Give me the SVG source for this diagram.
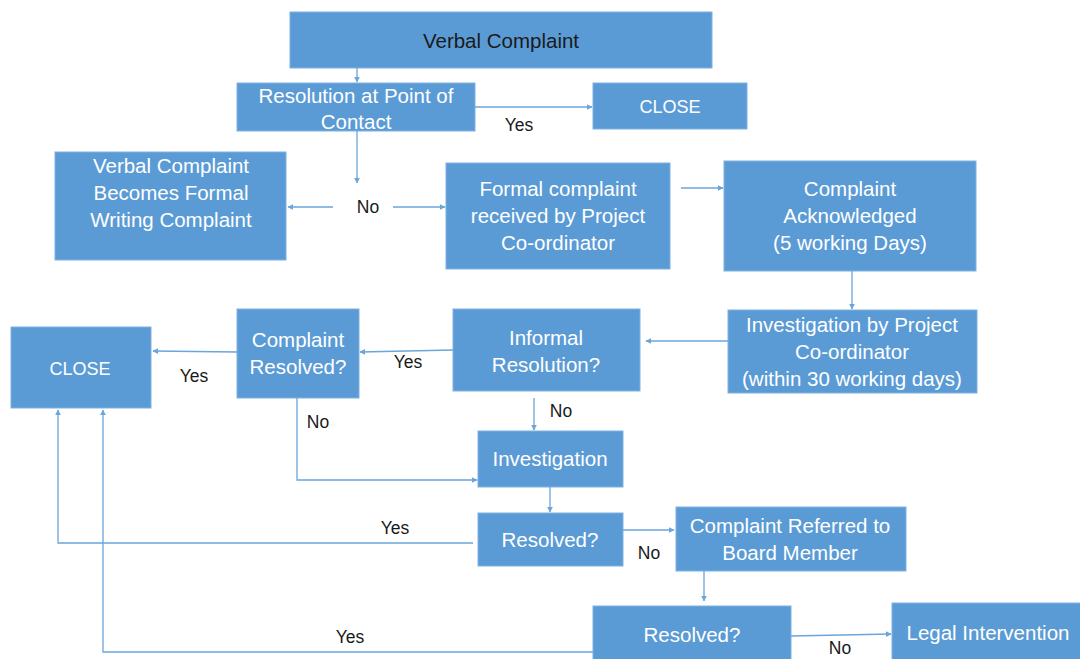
<svg xmlns="http://www.w3.org/2000/svg" width="1080" height="659" viewBox="0 0 1080 659">
<style>
.box{fill:#5b9bd5;stroke:#7fb2e0;stroke-width:1}
.t{font-family:"Liberation Sans",Arial,sans-serif;font-size:20.5px;fill:#ffffff;text-anchor:middle}
.s{font-size:18px}
.d{fill:#1a1a1a}
.lbl{font-family:"Liberation Sans",Arial,sans-serif;font-size:17.5px;fill:#1a1a1a;text-anchor:middle}
.c{fill:none;stroke:#6aa5db;stroke-width:1.3}
</style>
<defs>
<marker id="ah" viewBox="0 0 10 10" refX="9" refY="5" markerWidth="6" markerHeight="6" orient="auto" markerUnits="userSpaceOnUse">
<path d="M0,0 L10,5 L0,10 z" fill="#6aa5db"/>
</marker>
</defs>
<rect width="1080" height="659" fill="#ffffff"/>
<g id="n1"><rect class="box" x="290" y="12" width="422" height="56"/><text class="t d" x="501" y="48">Verbal Complaint</text></g>
<g id="n2"><rect class="box" x="237" y="83" width="238" height="48"/><text class="t" x="356" y="103">Resolution at Point of</text><text class="t" x="356" y="129">Contact</text></g>
<g id="n3"><rect class="box" x="593" y="83" width="154" height="46"/><text class="t s" x="670" y="113">CLOSE</text></g>
<g id="n4"><rect class="box" x="55" y="152" width="231" height="108"/><text class="t" x="171" y="173">Verbal Complaint</text><text class="t" x="171" y="200">Becomes Formal</text><text class="t" x="171" y="227">Writing Complaint</text></g>
<g id="n5"><rect class="box" x="446" y="163" width="224" height="106"/><text class="t" x="558" y="196">Formal complaint</text><text class="t" x="558" y="223">received by Project</text><text class="t" x="558" y="250">Co-ordinator</text></g>
<g id="n6"><rect class="box" x="724" y="161" width="252" height="110"/><text class="t" x="850" y="196">Complaint</text><text class="t" x="850" y="223">Acknowledged</text><text class="t" x="850" y="250">(5 working Days)</text></g>
<g id="n7"><rect class="box" x="728" y="310" width="249" height="83"/><text class="t" x="852" y="332">Investigation by Project</text><text class="t" x="852" y="359">Co-ordinator</text><text class="t" x="852" y="386">(within 30 working days)</text></g>
<g id="n8"><rect class="box" x="453" y="309" width="187" height="82"/><text class="t" x="546" y="345">Informal</text><text class="t" x="546" y="372">Resolution?</text></g>
<g id="n9"><rect class="box" x="237" y="309" width="122" height="89"/><text class="t" x="298" y="347">Complaint</text><text class="t" x="298" y="374">Resolved?</text></g>
<g id="n10"><rect class="box" x="11" y="327" width="140" height="81"/><text class="t s" x="80" y="375">CLOSE</text></g>
<g id="n11"><rect class="box" x="478" y="431" width="145" height="56"/><text class="t" x="550" y="466">Investigation</text></g>
<g id="n12"><rect class="box" x="478" y="513" width="145" height="53"/><text class="t" x="550" y="547">Resolved?</text></g>
<g id="n13"><rect class="box" x="676" y="507" width="230" height="64"/><text class="t" x="790" y="533">Complaint Referred to</text><text class="t" x="790" y="560">Board Member</text></g>
<g id="n14"><rect class="box" x="593" y="606" width="198" height="60"/><text class="t" x="692" y="642">Resolved?</text></g>
<g id="n15"><rect class="box" x="892" y="603" width="195" height="60"/><text class="t" x="988" y="640">Legal Intervention</text></g>
<g id="connectors">
<path class="c" marker-end="url(#ah)" d="M357,68 L357,82"/>
<path class="c" marker-end="url(#ah)" d="M475,107 L592,107"/>
<path class="c" marker-end="url(#ah)" d="M357,131 L357,183"/>
<path class="c" marker-end="url(#ah)" d="M333,207 L288,207"/>
<path class="c" marker-end="url(#ah)" d="M393,207 L445,207"/>
<path class="c" marker-end="url(#ah)" d="M681,188 L723,188"/>
<path class="c" marker-end="url(#ah)" d="M852,271 L852,309"/>
<path class="c" marker-end="url(#ah)" d="M728,341 L646,341"/>
<path class="c" marker-end="url(#ah)" d="M453,350 L360,352"/>
<path class="c" marker-end="url(#ah)" d="M237,352 L153,351"/>
<path class="c" marker-end="url(#ah)" d="M297,398 L297,480 L477,480"/>
<path class="c" marker-end="url(#ah)" d="M534,398 L534,430"/>
<path class="c" marker-end="url(#ah)" d="M550,487 L550,512"/>
<path class="c" marker-end="url(#ah)" d="M473,543 L58,543 L58,410"/>
<path class="c" marker-end="url(#ah)" d="M623,530 L674,530"/>
<path class="c" marker-end="url(#ah)" d="M704,571 L704,601"/>
<path class="c" marker-end="url(#ah)" d="M593,652 L103,652 L103,410"/>
<path class="c" marker-end="url(#ah)" d="M791,636 L891,634"/>
</g>
<g id="labels">
<text class="lbl" x="519" y="131">Yes</text>
<text class="lbl" x="368" y="213">No</text>
<text class="lbl" x="408" y="368">Yes</text>
<text class="lbl" x="194" y="382">Yes</text>
<text class="lbl" x="318" y="428">No</text>
<text class="lbl" x="561" y="417">No</text>
<text class="lbl" x="395" y="534">Yes</text>
<text class="lbl" x="649" y="559">No</text>
<text class="lbl" x="350" y="643">Yes</text>
<text class="lbl" x="840" y="654">No</text>
</g>
</svg>
